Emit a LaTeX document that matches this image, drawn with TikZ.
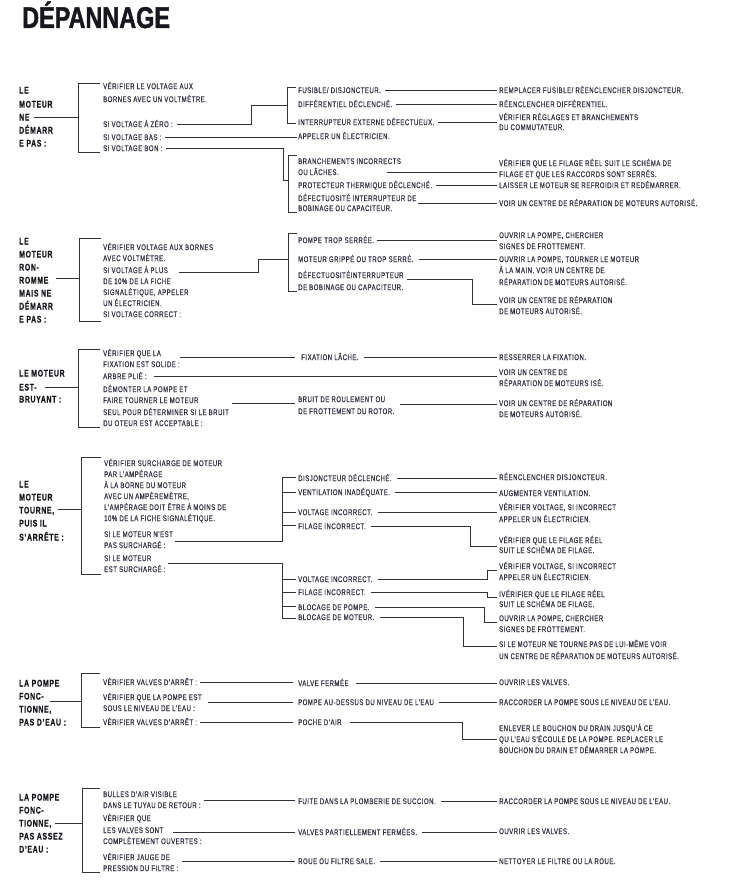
\documentclass[tikz,border=0pt]{standalone}
\usepackage{fontspec}
\newfontfamily\bodyf{Liberation Sans}[FakeStretch=0.72,LetterSpace=6.5,FakeBold=0.6]
\newfontfamily\headf{Liberation Sans}[FakeStretch=0.72,LetterSpace=7,FakeBold=0.6]
\newfontfamily\titlef{Liberation Sans}[FakeStretch=0.78,FakeBold=1.4]
\definecolor{txtc}{RGB}{52,52,70}
\definecolor{hdc}{RGB}{22,22,28}
\definecolor{lnc}{RGB}{50,50,55}
\newcommand\Tn[4]{\node[tx] (#1) at (#2,-#3) {#4};}
\newcommand\Hn[3]{\node[hd] (#1) at (19,-#2) {#3};}
\begin{document}
\begin{tikzpicture}[x=1pt,y=1pt,
  tx/.style={anchor=west,inner sep=0pt,text height=6.2pt,text depth=0pt,text=txtc,font=\bodyf\fontsize{8.3}{10}\selectfont},
  hd/.style={anchor=west,inner sep=0pt,text height=7pt,text depth=0pt,text=hdc,font=\headf\bfseries\fontsize{9.6}{11}\selectfont},
  ln/.style={draw=lnc,line width=0.9pt}]
\useasboundingbox (0,0) rectangle (729,-883);
\node[anchor=base west,inner sep=0pt,text=hdc,font=\titlef\bfseries\fontsize{30}{32}\selectfont] (title) at (22,-28) {DÉPANNAGE};

% ================= Section 1
\Hn{h1a}{90}{LE}\Hn{h1b}{104}{MOTEUR}\Hn{h1c}{117}{NE}\Hn{h1d}{130}{DÉMARR}\Hn{h1e}{143}{E PAS :}
\Tn{a1}{103}{86}{VÉRIFIER LE VOLTAGE AUX}
\Tn{a2}{103}{99}{BORNES AVEC UN VOLTMÈTRE.}
\Tn{a3}{103}{124}{SI VOLTAGE À ZÉRO :}
\Tn{a4}{103}{137}{SI VOLTAGE BAS :}
\Tn{a5}{103}{148}{SI VOLTAGE BON :}
\Tn{b1}{298}{90}{FUSIBLE/ DISJONCTEUR.}
\Tn{b2}{298}{104}{DIFFÉRENTIEL DÉCLENCHÉ.}
\Tn{b3}{298}{122}{INTERRUPTEUR EXTERNE DÉFECTUEUX.}
\Tn{b4}{298}{136}{APPELER UN ÉLECTRICIEN.}
\Tn{b5}{298}{161}{BRANCHEMENTS INCORRECTS}
\Tn{b6}{298}{172}{OU LÂCHES.}
\Tn{b7}{298}{185}{PROTECTEUR THERMIQUE DÉCLENCHÉ.}
\Tn{b8}{298}{198}{DÉFECTUOSITÉ INTERRUPTEUR DE}
\Tn{b9}{298}{208}{BOBINAGE OU CAPACITEUR.}
\Tn{c1}{499}{90}{REMPLACER FUSIBLE/ RÉENCLENCHER DISJONCTEUR.}
\Tn{c2}{499}{104}{RÉENCLENCHER DIFFÉRENTIEL.}
\Tn{c3}{499}{117}{VÉRIFIER RÉGLAGES ET BRANCHEMENTS}
\Tn{c4}{499}{127}{DU COMMUTATEUR.}
\Tn{c5}{499}{163}{VÉRIFIER QUE LE FILAGE RÉEL SUIT LE SCHÉMA DE}
\Tn{c6}{499}{174}{FILAGE ET QUE LES RACCORDS SONT SERRÉS.}
\Tn{c7}{499}{185}{LAISSER LE MOTEUR SE REFROIDIR ET REDÉMARRER.}
\Tn{c8}{499}{203}{VOIR UN CENTRE DE RÉPARATION DE MOTEURS AUTORISÉ.}
\coordinate (k1) at (78,-117);
\draw[ln] ([xshift=4pt]h1c.east |- k1) -- (k1);
\draw[ln] (100,-83) -- (78,-83) -- (78,-152) -- (100,-152);
\draw[ln] ([xshift=4pt]a3.east) -| (251,-105) -- (287,-105);
\draw[ln] (296,-87) -- (287,-87) -- (287,-123) -- (296,-123);
\draw[ln] ([xshift=4pt]a4.east) -- ([xshift=-1pt]a4.east -| b4.west);
\draw[ln] ([xshift=4pt]a5.east) -| (283,-180) -- (288,-180);
\draw[ln] (297,-155) -- (288,-155) -- (288,-212) -- (297,-212);
\draw[ln] ([xshift=4pt]b1.east) -- ([xshift=-2pt]b1.east -| c1.west);
\draw[ln] ([xshift=4pt]b2.east) -- ([xshift=-2pt]b2.east -| c2.west);
\draw[ln] ([xshift=3pt]b3.east) -- ([xshift=-2pt]b3.east -| c3.west);
\draw[ln] (387,-172) -- ([xshift=-2pt]b6.east -| c6.west);
\draw[ln] ([xshift=4pt]b7.east) -- ([xshift=-2pt]b7.east -| c7.west);
\draw[ln] (418,-203) -- ([xshift=-2pt]c8.west);

% ================= Section 2
\Hn{h2a}{241}{LE}\Hn{h2b}{254}{MOTEUR}\Hn{h2c}{267}{RON-}\Hn{h2d}{280}{ROMME}\Hn{h2e}{293}{MAIS NE}\Hn{h2f}{306}{DÉMARR}\Hn{h2g}{319}{E PAS :}
\Tn{d1}{103}{247}{VÉRIFIER VOLTAGE AUX BORNES}
\Tn{d2}{103}{258}{AVEC VOLTMÈTRE.}
\Tn{d3}{103}{270}{SI VOLTAGE À PLUS}
\Tn{d4}{103}{281}{DE 10\% DE LA FICHE}
\Tn{d5}{103}{292}{SIGNALÉTIQUE, APPELER}
\Tn{d6}{103}{303}{UN ÉLECTRICIEN.}
\Tn{d7}{103}{314}{SI VOLTAGE CORRECT :}
\Tn{e1}{298}{240}{POMPE TROP SERRÉE.}
\Tn{e2}{298}{259}{MOTEUR GRIPPÉ OU TROP SERRÉ.}
\Tn{e3}{298}{275}{DÉFECTUOSITÉINTERRUPTEUR}
\Tn{e4}{298}{287}{DE BOBINAGE OU CAPACITEUR.}
\Tn{f1}{499}{235}{OUVRIR LA POMPE, CHERCHER}
\Tn{f2}{499}{246}{SIGNES DE FROTTEMENT.}
\Tn{f3}{499}{259}{OUVRIR LA POMPE, TOURNER LE MOTEUR}
\Tn{f4}{499}{270}{À LA MAIN. VOIR UN CENTRE DE}
\Tn{f5}{499}{282}{RÉPARATION DE MOTEURS AUTORISÉ.}
\Tn{f6}{499}{300}{VOIR UN CENTRE DE RÉPARATION}
\Tn{f7}{499}{311}{DE MOTEURS AUTORISÉ.}
\coordinate (k2) at (79,-278);
\draw[ln] ([xshift=7pt]h2d.east |- k2) -- (k2);
\draw[ln] (101,-238) -- (79,-238) -- (79,-321) -- (101,-321);
\draw[ln] ([xshift=11pt,yshift=-2pt]d3.east) -| (258,-259) -- (288,-259);
\draw[ln] (297,-233) -- (288,-233) -- (288,-291) -- (297,-291);
\draw[ln] ([xshift=3pt]e1.east) -- ([xshift=-2pt]e1.east -| f1.west);
\draw[ln] ([xshift=5pt]e2.east) -- ([xshift=-2pt]e2.east -| f3.west);
\draw[ln] ([xshift=3pt,yshift=-4pt]e3.east) -| (472,-304) -- ([xshift=-2pt]f6.west |- 0,-304);

% ================= Section 3
\Hn{h3a}{373}{LE MOTEUR}\Hn{h3b}{387}{EST-}\Hn{h3c}{399}{BRUYANT :}
\Tn{g1}{103}{353}{VÉRIFIER QUE LA}
\Tn{g2}{103}{364}{FIXATION EST SOLIDE :}
\Tn{g3}{103}{376}{ARBRE PLIÉ :}
\Tn{g4}{103}{389}{DÉMONTER LA POMPE ET}
\Tn{g5}{103}{400}{FAIRE TOURNER LE MOTEUR}
\Tn{g6}{103}{412}{SEUL POUR DÉTERMINER SI LE BRUIT}
\Tn{g7}{103}{423}{DU OTEUR EST ACCEPTABLE :}
\Tn{i1}{301}{357}{FIXATION LÂCHE.}
\Tn{i2}{298}{399}{BRUIT DE ROULEMENT OU}
\Tn{i3}{298}{411}{DE FROTTEMENT DU ROTOR.}
\Tn{j1}{499}{357}{RESSERRER LA FIXATION.}
\Tn{j2}{499}{372}{VOIR UN CENTRE DE}
\Tn{j3}{499}{383}{RÉPARATION DE MOTEURS ISÉ.}
\Tn{j4}{499}{403}{VOIR UN CENTRE DE RÉPARATION}
\Tn{j5}{499}{414}{DE MOTEURS AUTORISÉ.}
\coordinate (k3) at (78,-387);
\draw[ln] ([xshift=8pt]h3b.east |- k3) -- (k3);
\draw[ln] (100,-349) -- (78,-349) -- (78,-427) -- (100,-427);
\draw[ln] ([yshift=7pt]g2.east) -- ([xshift=-6pt]i1.west);
\draw[ln] ([xshift=5pt]i1.east) -- ([xshift=-2pt]j1.west);
\draw[ln] ([xshift=7pt]g3.east) -- ([xshift=-2pt]g3.east -| j2.west);
\draw[ln] ([xshift=33pt,yshift=-3pt]g5.east) -- ([xshift=-3pt,yshift=-3pt]g5.east -| i2.west);
\draw[ln] (400,-404) -- ([xshift=-2pt]j4.west |- 0,-404);

% ================= Section 4
\Hn{h4a}{484}{LE}\Hn{h4b}{497}{MOTEUR}\Hn{h4c}{510}{TOURNE,}\Hn{h4d}{523}{PUIS IL}\Hn{h4e}{537}{S’ARRÊTE :}
\Tn{k1t}{104}{463}{VÉRIFIER SURCHARGE DE MOTEUR}
\Tn{k2t}{104}{474}{PAR L’AMPÉRAGE}
\Tn{k3t}{104}{485}{À LA BORNE DU MOTEUR}
\Tn{k4t}{104}{496}{AVEC UN AMPÈREMÈTRE,}
\Tn{k5t}{104}{507}{L’AMPÉRAGE DOIT ÊTRE À MOINS DE}
\Tn{k6t}{104}{518}{10\% DE LA FICHE SIGNALÉTIQUE.}
\Tn{k7t}{104}{534}{SI LE MOTEUR N’EST}
\Tn{k8t}{104}{545}{PAS SURCHARGÉ :}
\Tn{k9t}{104}{558}{SI LE MOTEUR}
\Tn{k10t}{104}{569}{EST SURCHARGÉ :}
\Tn{m1}{298}{478}{DISJONCTEUR DÉCLENCHÉ.}
\Tn{m2}{298}{492}{VENTILATION INADÉQUATE.}
\Tn{m3}{298}{512}{VOLTAGE INCORRECT.}
\Tn{m4}{298}{526}{FILAGE INCORRECT.}
\Tn{m5}{298}{579}{VOLTAGE INCORRECT.}
\Tn{m6}{298}{592}{FILAGE INCORRECT.}
\Tn{m7}{298}{607}{BLOCAGE DE POMPE.}
\Tn{m8}{298}{617}{BLOCAGE DE MOTEUR.}
\Tn{n1}{499}{477}{RÉENCLENCHER DISJONCTEUR.}
\Tn{n2}{499}{493}{AUGMENTER VENTILATION.}
\Tn{n3}{499}{507}{VÉRIFIER VOLTAGE, SI INCORRECT}
\Tn{n4}{499}{519}{APPELER UN ÉLECTRICIEN.}
\Tn{n5}{499}{540}{VÉRIFIER QUE LE FILAGE RÉEL}
\Tn{n6}{499}{550}{SUIT LE SCHÉMA DE FILAGE.}
\Tn{n7}{499}{566}{VÉRIFIER VOLTAGE, SI INCORRECT}
\Tn{n8}{499}{577}{APPELER UN ÉLECTRICIEN.}
\Tn{n9}{499}{594}{IVÉRIFIER QUE LE FILAGE RÉEL}
\Tn{n10}{499}{604}{SUIT LE SCHÉMA DE FILAGE.}
\Tn{n11}{499}{618}{OUVRIR LA POMPE, CHERCHER}
\Tn{n12}{499}{629}{SIGNES DE FROTTEMENT.}
\Tn{n13}{499}{644}{SI LE MOTEUR NE TOURNE PAS DE LUI-MÊME VOIR}
\Tn{n14}{499}{656}{UN CENTRE DE RÉPARATION DE MOTEURS AUTORISÉ.}
\coordinate (k4) at (81,-509);
\draw[ln] ([xshift=4pt]h4c.east |- k4) -- (k4);
\draw[ln] (101,-457) -- (81,-457) -- (81,-574) -- (101,-574);
\draw[ln] ([xshift=2pt,yshift=-7pt]k7t.east) -- (282,-541) -- (282,-477) -- (296,-477);
\draw[ln] (282,-492) -- (296,-492);
\draw[ln] (282,-512) -- (296,-512);
\draw[ln] (282,-525) -- (296,-525);
\draw[ln] ([xshift=2pt,yshift=6pt]k10t.east) -- (282,-563) -- (282,-618) -- (296,-618);
\draw[ln] (282,-579) -- (296,-579);
\draw[ln] (282,-592) -- (296,-592);
\draw[ln] (282,-606) -- (296,-606);
\draw[ln] ([xshift=5pt]m1.east) -- ([xshift=-2pt]m1.east -| n1.west);
\draw[ln] ([xshift=5pt]m2.east) -- ([xshift=-2pt]m2.east -| n2.west);
\draw[ln] ([xshift=5pt]m3.east) -- ([xshift=-2pt]m3.east -| n3.west);
\draw[ln] ([xshift=5pt]m4.east) -| (470,-546) -- ([xshift=-2pt]n5.west |- 0,-546);
\draw[ln] ([xshift=5pt]m5.east) -| (487,-570) -- ([xshift=-2pt]n7.west |- 0,-570);
\draw[ln] ([xshift=5pt]m6.east) -| (487,-597) -- ([xshift=-2pt]n9.west |- 0,-597);
\draw[ln] ([xshift=5pt]m7.east) -| (484,-622) -- ([xshift=-2pt]n11.west |- 0,-622);
\draw[ln] ([xshift=5pt]m8.east) -| (463,-646) -- ([xshift=-2pt]n13.west |- 0,-646);

% ================= Section 5
\Hn{h5a}{683}{LA POMPE}\Hn{h5b}{696}{FONC-}\Hn{h5c}{709}{TIONNE,}\Hn{h5d}{722}{PAS D’EAU :}
\Tn{p1}{103}{682}{VÉRIFIER VALVES D’ARRÊT :}
\Tn{p2}{103}{697}{VÉRIFIER QUE LA POMPE EST}
\Tn{p3}{103}{708}{SOUS LE NIVEAU DE L’EAU :}
\Tn{p4}{103}{722}{VÉRIFIER VALVES D’ARRÊT :}
\Tn{q1}{298}{683}{VALVE FERMÉE}
\Tn{q2}{298}{702}{POMPE AU-DESSUS DU NIVEAU DE L’EAU}
\Tn{q3}{298}{722}{POCHE D’AIR}
\Tn{r1}{499}{682}{OUVRIR LES VALVES.}
\Tn{r2}{499}{702}{RACCORDER LA POMPE SOUS LE NIVEAU DE L’EAU.}
\Tn{r3}{499}{728}{ENLEVER LE BOUCHON DU DRAIN JUSQU’À CE}
\Tn{r4}{499}{739}{QU L’EAU S’ÉCOULE DE LA POMPE. REPLACER LE}
\Tn{r5}{499}{750}{BOUCHON DU DRAIN ET DÉMARRER LA POMPE.}
\coordinate (k5) at (81,-701);
\draw[ln] ([xshift=6pt]h5b.east |- k5) -- (k5);
\draw[ln] (100,-673) -- (81,-673) -- (81,-727) -- (100,-727);
\draw[ln] ([xshift=3pt]p1.east) -- ([xshift=-5pt]p1.east -| q1.west);
\draw[ln] ([xshift=6pt,yshift=-5pt]p2.east) -- ([xshift=-5pt]q2.west);
\draw[ln] ([xshift=3pt]p4.east) -- ([xshift=-5pt]q3.west);
\draw[ln] ([xshift=7pt]q1.east) -- ([xshift=-2pt]q1.east -| r1.west);
\draw[ln] ([xshift=5pt]q2.east) -- ([xshift=-2pt]r2.west);
\draw[ln] ([xshift=8pt]q3.east) -| (462,-739) -- ([xshift=-2pt]r4.west);

% ================= Section 6
\Hn{h6a}{797}{LA POMPE}\Hn{h6b}{810}{FONC-}\Hn{h6c}{823}{TIONNE,}\Hn{h6d}{836}{PAS ASSEZ}\Hn{h6e}{849}{D’EAU :}
\Tn{s1}{103}{794}{BULLES D’AIR VISIBLE}
\Tn{s2}{103}{805}{DANS LE TUYAU DE RETOUR :}
\Tn{s3}{103}{818}{VÉRIFIER QUE}
\Tn{s4}{103}{830}{LES VALVES SONT}
\Tn{s5}{103}{841}{COMPLÈTEMENT OUVERTES :}
\Tn{s6}{103}{857}{VÉRIFIER JAUGE DE}
\Tn{s7}{103}{868}{PRESSION DU FILTRE :}
\Tn{u1}{298}{801}{FUITE DANS LA PLOMBERIE DE SUCCION.}
\Tn{u2}{298}{832}{VALVES PARTIELLEMENT FERMÉES.}
\Tn{u3}{298}{861}{ROUE OU FILTRE SALE.}
\Tn{v1}{499}{801}{RACCORDER LA POMPE SOUS LE NIVEAU DE L’EAU.}
\Tn{v2}{499}{831}{OUVRIR LES VALVES.}
\Tn{v3}{499}{861}{NETTOYER LE FILTRE OU LA ROUE.}
\coordinate (k6) at (82,-823);
\draw[ln] ([xshift=4pt]h6c.east |- k6) -- (k6);
\draw[ln] (100,-788) -- (82,-788) -- (82,-872) -- (100,-872);
\draw[ln] ([xshift=3pt,yshift=5pt]s2.east) -- ([xshift=-3pt,yshift=5pt]s2.east -| u1.west);
\draw[ln] ([xshift=10pt,yshift=-2pt]s4.east) -- ([xshift=-3pt,yshift=-2pt]s4.east -| u2.west);
\draw[ln] ([xshift=12pt,yshift=-4pt]s6.east) -- ([xshift=-3pt,yshift=-4pt]s6.east -| u3.west);
\draw[ln] ([xshift=5pt]u1.east) -- ([xshift=-2pt]u1.east -| v1.west);
\draw[ln] ([xshift=5pt]u2.east) -- ([xshift=-2pt]u2.east -| v2.west);
\draw[ln] ([xshift=5pt]u3.east) -- ([xshift=-2pt]u3.east -| v3.west);
\end{tikzpicture}
\end{document}
